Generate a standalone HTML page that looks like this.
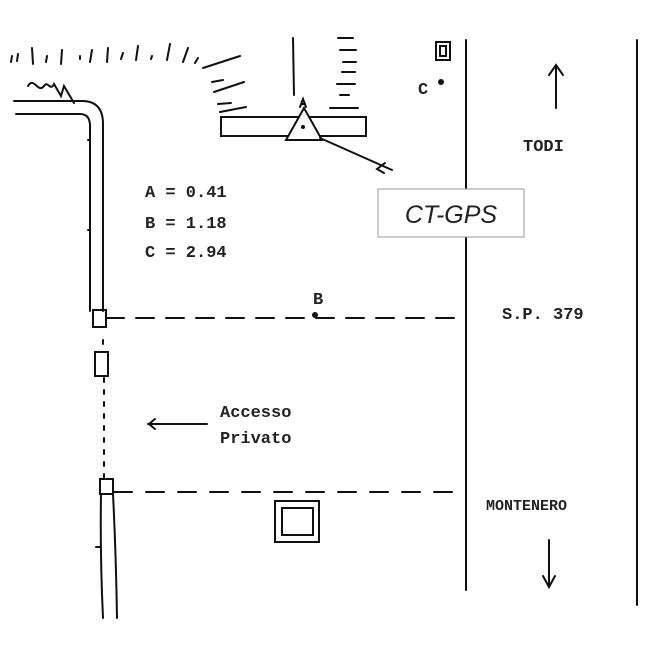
<!DOCTYPE html>
<html><head><style>
body{margin:0;background:#fff;}
svg{display:block;}
.m{font-family:"Liberation Mono",monospace;font-size:17px;font-weight:bold;fill:#222;}
</style></head><body>
<svg width="649" height="649" viewBox="0 0 649 649" xmlns="http://www.w3.org/2000/svg">
<g stroke="#111" stroke-width="2" fill="none" stroke-linecap="round">
<!-- top hatch -->
<path d="M12 56l-1 6M18 54l-1 7M32 48l1 16M47 56l-1 6M62 50l-1 14M80 56l0 3M92 50l-2 12M108 48l-1 14M123 53l-2 6M138 46l-2 14M152 56l-1 3M170 44l-3 16M188 48l-5 14M198 58l-3 5M203 68l37-12M212 82l11-2M214 92l30-10M218 104l13-1M220 112l26-5"/>
<path d="M293 38l1 57M338 38h15M340 50h16M343 62h13M342 72h13M337 84h18M340 95h9M330 108h28"/>
<path d="M28 86c6-10 10 8 16 0c4-6 6 6 10-2l7 12l3-10l10 17"/>
<!-- road bend -->
<path d="M14 101h68q21 0 21 23v187"/>
<path d="M16 114h64q10 0 10 12v185"/>
<path d="M88 140l2 0M90 230h-2"/>
<!-- pipes -->
<rect x="93" y="310" width="13" height="17"/>
<rect x="95" y="352" width="13" height="24"/>
<path d="M103 340v10M104 378v100" stroke-dasharray="4 8"/>
<rect x="100" y="479" width="13" height="15"/>
<path d="M101 494q-1 60 2 124M113 494q3 60 4 124M96 547h5"/>
<!-- dashed lines -->
<path d="M106 318H465" stroke-dasharray="18 12"/>
<path d="M114 492H465" stroke-dasharray="18 14"/>
<!-- road lines -->
<path d="M466 40V590M637 40V605"/>
<!-- bar & triangle -->
<rect x="221" y="117" width="145" height="19"/>
<path d="M286 140L304 108L322 140Z" fill="#fff"/>
<path d="M300 107l3-8l3 8M301 104h4"/>
<path d="M320 138L392 170M385 163l-8 6 7 4"/>
<!-- squares -->
<rect x="436" y="42" width="14" height="18"/><rect x="440" y="46" width="6" height="10"/>
<rect x="275" y="501" width="44" height="41"/><rect x="282" y="508" width="31" height="27"/>
<!-- arrows -->
<path d="M556 108V65M549 75l7-10 7 10"/>
<path d="M549 540V587M543 576l6 11 6-11"/>
<path d="M207 424H148M155 419l-6 5 6 5"/>
</g>
<circle cx="303" cy="127" r="2" fill="#111"/>
<circle cx="441" cy="82" r="3" fill="#111"/>
<circle cx="315" cy="315" r="3" fill="#111"/>
<text class="m" x="418" y="94">C</text>
<text class="m" x="313" y="304">B</text>
<text class="m" x="145" y="197">A = 0.41</text>
<text class="m" x="145" y="228">B = 1.18</text>
<text class="m" x="145" y="257">C = 2.94</text>
<text class="m" x="523" y="151">TODI</text>
<text class="m" x="502" y="319">S.P. 379</text>
<text class="m" x="220" y="417">Accesso</text>
<text class="m" x="220" y="443">Privato</text>
<text class="m" x="486" y="510" style="font-size:15px">MONTENERO</text>
<rect x="378" y="189" width="146" height="48" fill="#fff" stroke="#999" stroke-width="1"/>
<text x="451" y="223" text-anchor="middle" style="font-family:'Liberation Sans',sans-serif;font-style:italic;font-size:25px;fill:#222">CT-GPS</text>
</svg>
</body></html>
